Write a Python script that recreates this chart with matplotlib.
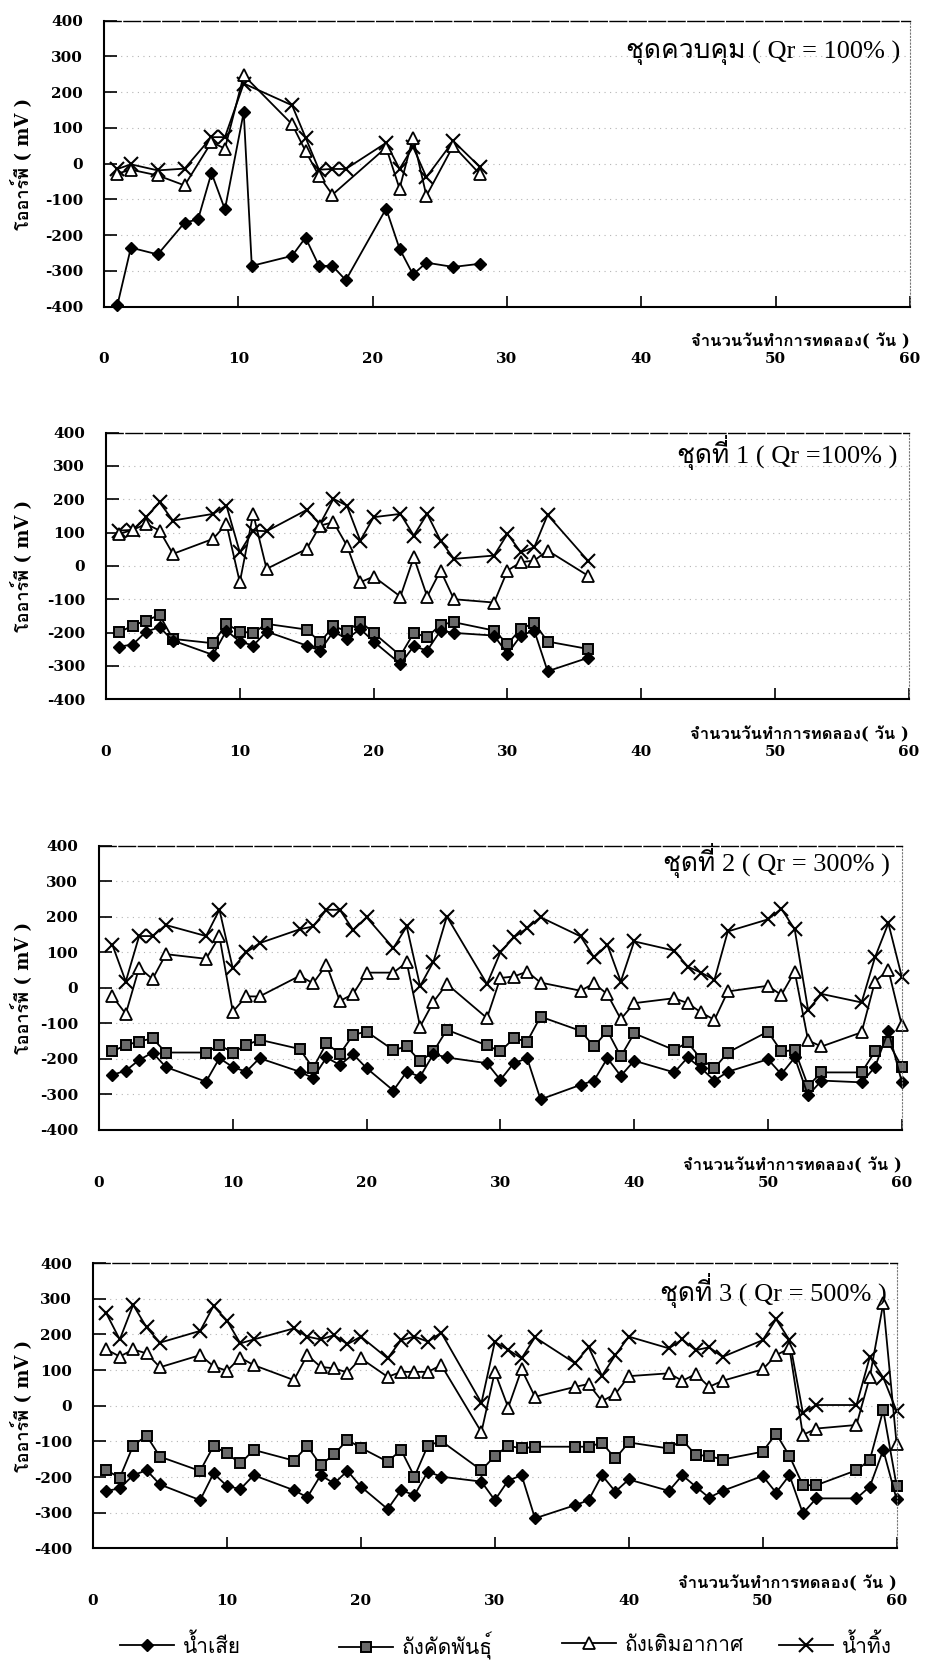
import numpy as np
import matplotlib
matplotlib.use('Agg')
import matplotlib.pyplot as plt
from matplotlib import font_manager
from matplotlib.ft2font import FT2Font
from matplotlib.lines import Line2D


def thai_fonts():
    # installed families that actually carry Thai glyphs
    found = []
    for f in font_manager.fontManager.ttflist:
        try:
            if 0x0E01 in FT2Font(f.fname).get_charmap() and f.name not in found:
                found.append(f.name)
        except Exception:
            continue
    return found


THAI = thai_fonts()
SERIF = ['Liberation Serif'] + THAI + ['DejaVu Serif']
BOLD = ['DejaVu Serif'] + THAI
plt.rcParams['font.family'] = SERIF

# ---- data: ORP (mV) per sampling day ----
# control set
c_days_ww = [1, 2, 4, 6, 7, 8, 9, 10.4, 11, 14, 15, 16, 17, 18, 21, 22, 23, 24, 26, 28]
c_ww = [-395, -235, -254, -165, -156, -26, -128, 144, -286, -258, -207, -286,
        -286, -326, -126, -238, -310, -277, -289, -280]
c_days_aer = [1, 2, 4, 6, 8, 9, 10.4, 14, 15, 16, 17, 21, 22, 23, 24, 26, 28]
c_aer = [-28, -17, -33, -61, 60, 42, 247, 110, 35, -34, -87, 45, -70, 73, -90, 50, -30]
c_days_eff = [1, 2, 4, 6, 8, 9, 10.4, 14, 15, 16, 17, 18, 21, 22, 23, 24, 26, 28]
c_eff = [-15, -2, -19, -14, 74, 74, 224, 163, 73, -17, -15, -15, 58, -15, 47, -38, 63, -10]

# set 1
s1_days = [1, 2, 3, 4, 5, 8, 9, 10, 11, 12, 15, 16, 17, 18, 19, 20, 22, 23, 24, 25,
           26, 29, 30, 31, 32, 33, 36]
s1_ww = [-242, -236, -197, -184, -224, -267, -194, -227, -239, -197, -239, -254, -197,
         -219, -189, -227, -294, -241, -254, -194, -201, -209, -264, -209, -194, -316, -276]
s1_sel = [-199, -179, -164, -147, -219, -232, -174, -197, -201, -174, -191, -229, -181,
          -196, -167, -201, -269, -201, -214, -176, -169, -194, -234, -189, -171, -227, -249]
s1_aer = [96, 108, 126, 106, 36, 81, 126, -49, 156, -9, 51, 121, 131, 61, -49, -32,
          -92, 26, -92, -14, -100, -110, -14, 11, 16, 46, -29]
s1_eff = [106, 108, 146, 191, 136, 156, 181, 41, 106, 104, 168, 126, 201, 181, 76, 146,
          156, 91, 156, 76, 21, 31, 96, 41, 56, 153, 16]

# sets 2 and 3 share the same sampling days
s_days = [1, 2, 3, 4, 5, 8, 9, 10, 11, 12, 15, 16, 17, 18, 19, 20, 22, 23, 24, 25, 26,
          29, 30, 31, 32, 33, 36, 37, 38, 39, 40, 43, 44, 45, 46, 47, 50, 51, 52, 53, 54,
          57, 58, 59, 60]
s2_ww = [-245, -233, -203, -182, -223, -264, -198, -223, -236, -198, -236, -254, -196,
         -217, -187, -226, -289, -236, -250, -186, -196, -212, -259, -212, -198, -314,
         -273, -261, -198, -248, -205, -238, -196, -226, -261, -236, -201, -243, -196,
         -303, -261, -266, -223, -121, -264]
s2_sel = [-179, -161, -151, -142, -182, -182, -161, -182, -161, -146, -172, -226, -156,
          -186, -132, -123, -175, -165, -207, -179, -118, -162, -179, -142, -151, -81,
          -121, -165, -121, -193, -128, -175, -153, -201, -226, -182, -123, -179, -175,
          -276, -238, -238, -179, -153, -222]
s2_aer = [-24, -73, 57, 25, 95, 82, 145, -67, -24, -24, 34, 13, 65, -37, -17, 43, 43,
          72, -109, -39, 11, -85, 28, 32, 46, 15, -8, 13, -18, -88, -43, -29, -43, -69,
          -90, -10, 6, -20, 46, -148, -165, -125, 18, 51, -104]
s2_eff = [121, 18, 146, 146, 177, 146, 220, 55, 100, 126, 165, 173, 220, 220, 163, 199,
          112, 173, 5, 74, 201, 11, 100, 142, 168, 199, 145, 86, 121, 18, 131, 105, 60,
          43, 23, 159, 193, 223, 165, -62, -17, -41, 86, 182, 32]

s3_ww = [-239, -232, -195, -181, -221, -265, -190, -225, -234, -195, -237, -257, -195,
         -218, -183, -227, -290, -237, -251, -185, -199, -213, -265, -210, -195, -316,
         -279, -265, -195, -241, -207, -239, -195, -227, -258, -239, -197, -244, -195,
         -302, -260, -260, -227, -124, -263]
s3_sel = [-181, -202, -112, -84, -143, -183, -113, -134, -162, -124, -154, -113, -167,
          -136, -96, -118, -157, -124, -199, -112, -99, -181, -141, -112, -120, -115,
          -115, -115, -104, -148, -103, -120, -96, -138, -141, -151, -129, -78, -141,
          -223, -223, -181, -152, -12, -225]
s3_aer = [158, 138, 158, 147, 108, 142, 111, 98, 135, 114, 72, 142, 109, 105, 93, 133,
          81, 95, 95, 95, 114, -74, 95, -5, 102, 25, 53, 61, 13, 33, 83, 91, 70, 89, 53,
          70, 102, 142, 161, -82, -64, -54, 81, 287, -108]
s3_eff = [259, 186, 283, 220, 177, 210, 280, 239, 175, 186, 217, 194, 186, 198, 173, 194,
          133, 184, 194, 180, 205, 8, 179, 157, 133, 192, 119, 165, 84, 142, 194, 161,
          186, 156, 164, 137, 184, 243, 184, -20, 2, 2, 137, 79, -15]

titles = ['ชุดควบคุม ( Qr = 100% )', 'ชุดที่ 1 ( Qr =100% )',
          'ชุดที่ 2 ( Qr = 300% )', 'ชุดที่ 3 ( Qr = 500% )']
series_names = ['น้ำเสีย', 'ถังคัดพันธุ์', 'ถังเติมอากาศ', 'น้ำทิ้ง']
ylabel = 'โออาร์พี ( mV )'
xlabel = 'จำนวนวันทำการทดลอง( วัน )'
yticks = [-400, -300, -200, -100, 0, 100, 200, 300, 400]
xticks = [0, 10, 20, 30, 40, 50, 60]

# (days, values) per series: waste water, selector, aeration, effluent
panels = [
    [(c_days_ww, c_ww), None, (c_days_aer, c_aer), (c_days_eff, c_eff)],
    [(s1_days, s1_ww), (s1_days, s1_sel), (s1_days, s1_aer), (s1_days, s1_eff)],
    [(s_days, s2_ww), (s_days, s2_sel), (s_days, s2_aer), (s_days, s2_eff)],
    [(s_days, s3_ww), (s_days, s3_sel), (s_days, s3_aer), (s_days, s3_eff)],
]

styles = [
    dict(marker='D', ms=6.5, mfc='black', mec='black'),
    dict(marker='s', ms=7, mfc='#6a6a6a', mec='black', mew=1.4),
    dict(marker='^', ms=9, mfc='white', mec='black', mew=1.3),
    dict(marker='x', ms=10, mec='black', mew=1.5),
]

W, H = 928, 1672
# axes boxes (left, bottom, width, height) in figure fraction
boxes = [
    (0.1121, 0.8166, 0.8685, 0.1711),
    (0.1142, 0.5818, 0.8653, 0.1595),
    (0.1067, 0.3242, 0.8650, 0.1699),
    (0.1002, 0.0740, 0.8660, 0.1705),
]
title_pos = [(0.988, 0.887), (0.985, 0.924), (0.985, 0.95), (0.988, 0.905)]

fig = plt.figure(figsize=(W / 100, H / 100), dpi=100)

for box, data, title, tpos in zip(boxes, panels, titles, title_pos):
    ax = fig.add_axes(box)
    for grid_y in yticks[1:-1]:
        ax.axhline(grid_y, color='#b4b4b4', lw=0.8, ls=(0, (1, 4)), zorder=0)
    # plot effluent first so waste water ends on top
    for series, st in reversed(list(zip(data, styles))):
        if series is None:
            continue
        ax.plot(series[0], series[1], color='black', lw=1.3, clip_on=False, **st)

    ax.set_xlim(0, 60)
    ax.set_ylim(-400, 400)
    ax.set_yticks(yticks)
    ax.set_yticklabels([str(v) for v in yticks], family=BOLD, weight='bold', fontsize=11)
    ax.set_xticks(xticks)
    ax.set_xticklabels([str(v) for v in xticks], family=BOLD, weight='bold', fontsize=11)
    ax.tick_params(axis='y', direction='in', length=9, width=1.2, pad=15)
    ax.tick_params(axis='x', direction='in', length=8, width=1.2, pad=33)

    ax.spines['left'].set_linewidth(1.5)
    ax.spines['bottom'].set_linewidth(1.5)
    ax.spines['top'].set_linestyle((0, (12, 2)))
    ax.spines['top'].set_linewidth(1.0)
    ax.spines['right'].set_linestyle((0, (1, 2)))
    ax.spines['right'].set_color('#777777')
    ax.spines['right'].set_linewidth(0.8)

    ax.set_ylabel(ylabel, family=BOLD, weight='bold', fontsize=13)
    ax.yaxis.set_label_coords((32 / W - box[0]) / box[2], 0.5)
    ax.annotate(xlabel, xy=(1.0, 0.0), xycoords='axes fraction',
                xytext=(0, -27), textcoords='offset pixels',
                ha='right', va='top', family=BOLD, weight='bold', fontsize=12)
    ax.text(tpos[0], tpos[1], title, transform=ax.transAxes, ha='right',
            va='center', fontsize=19)

# legend entries sit at evenly spaced starting points along the bottom
legend_x = [120 / W, 339 / W, 562 / W, 779 / W]
for st, name, lx in zip(styles, series_names, legend_x):
    handle = Line2D([], [], color='black', lw=1.3, **st)
    fig.legend([handle], [name], loc='center left', bbox_to_anchor=(lx, 0.0156),
               frameon=False, handlelength=2.6, handletextpad=0.4, borderpad=0,
               borderaxespad=0, prop={'family': SERIF, 'size': 15})

fig.savefig('out.png', dpi=100)
